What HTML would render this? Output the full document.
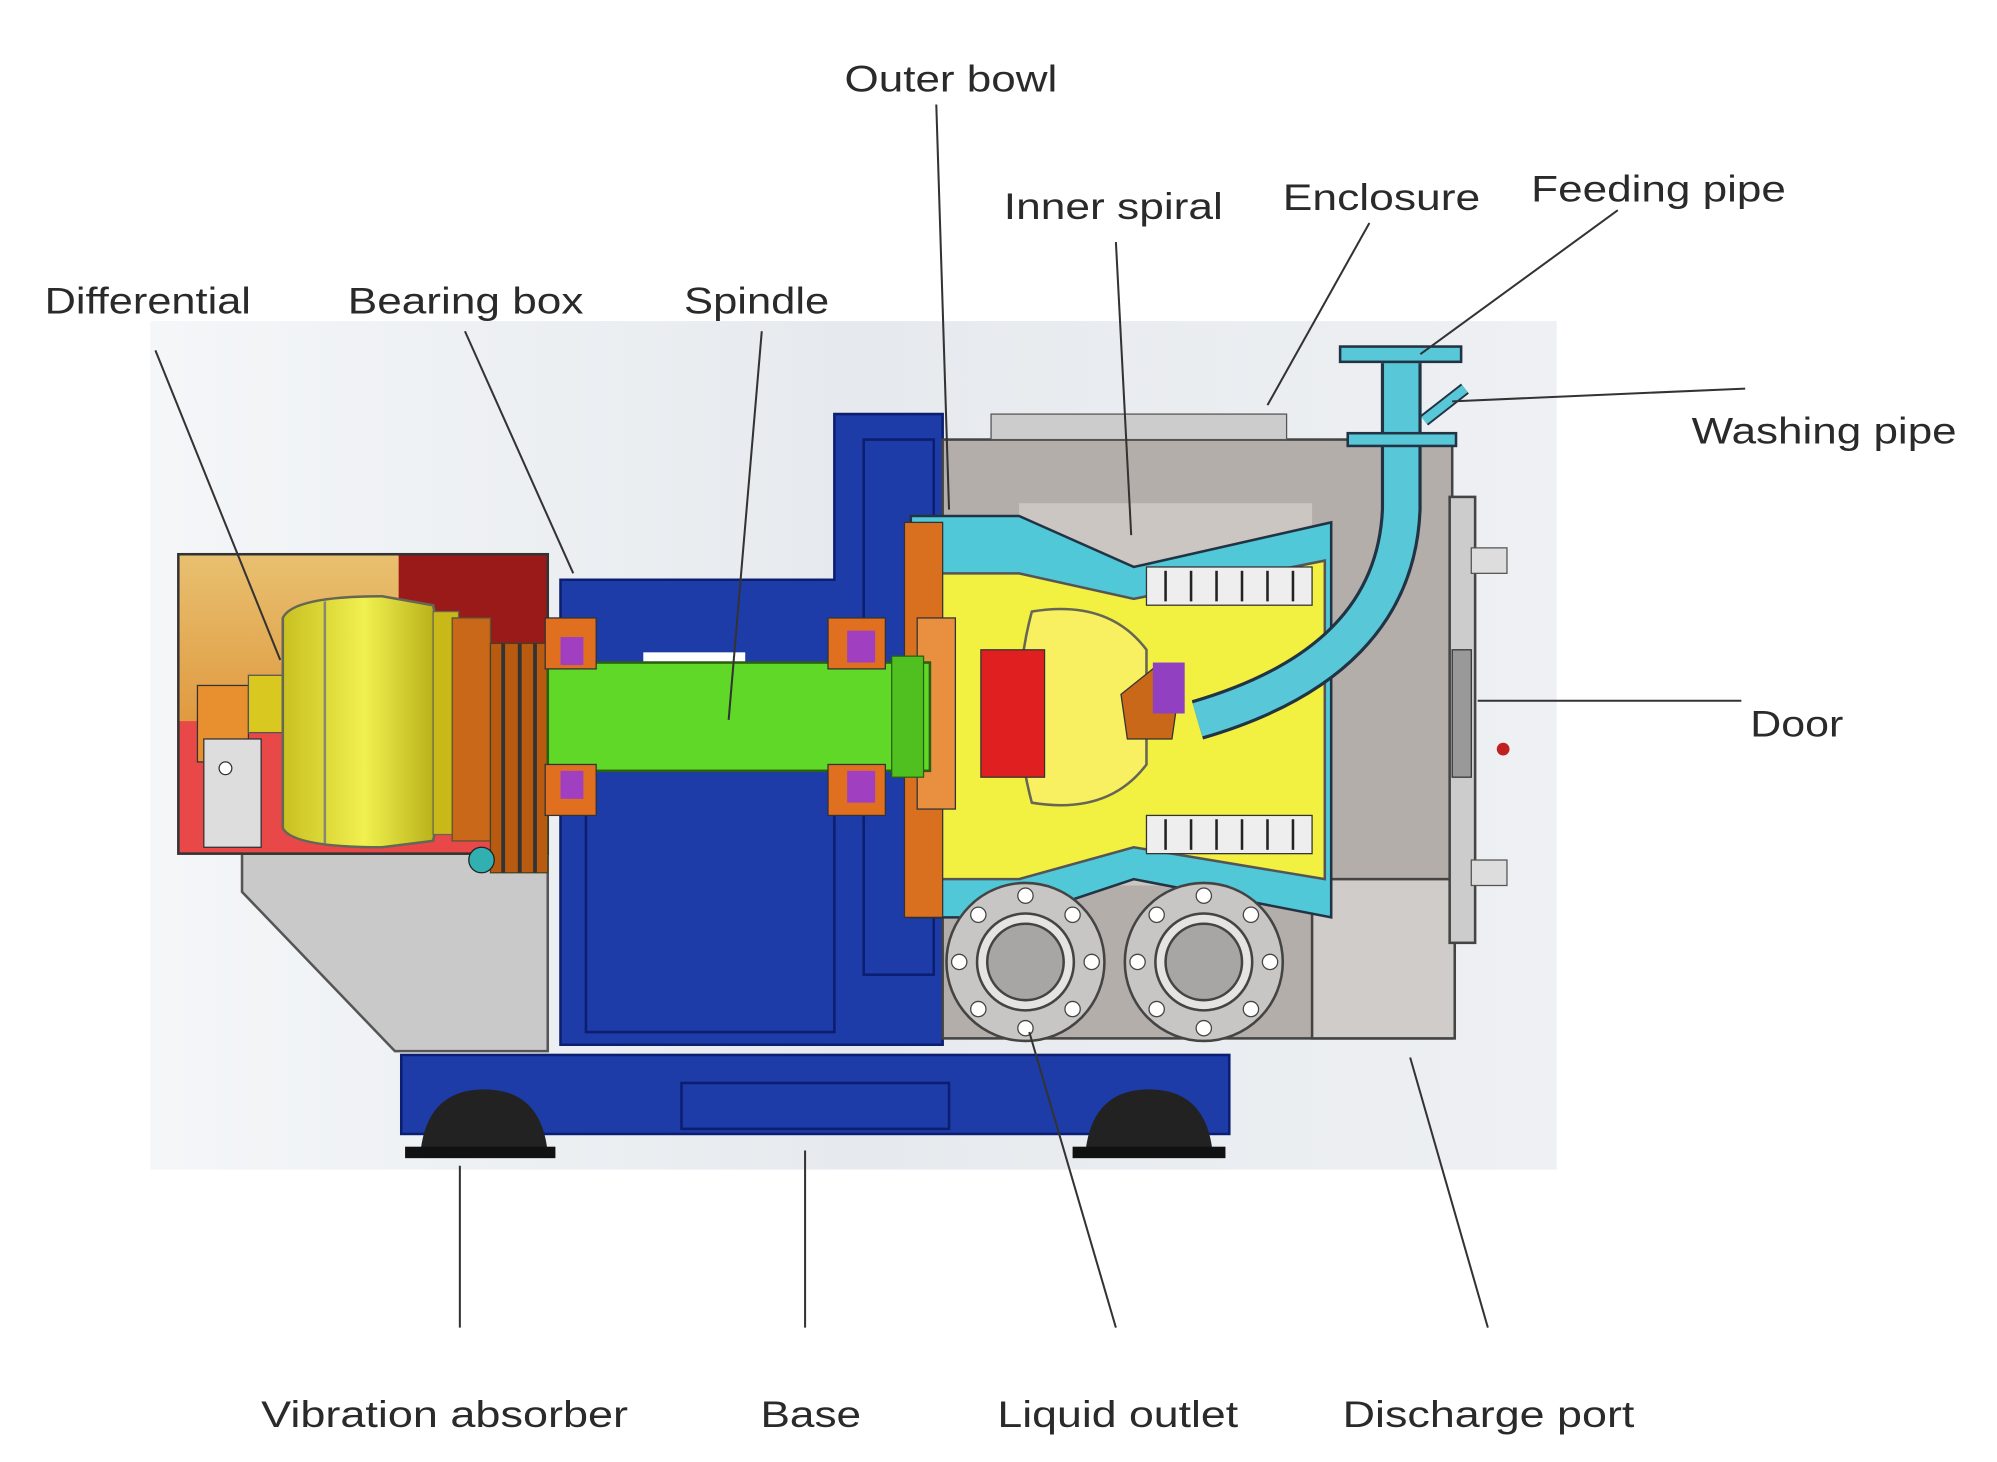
<!DOCTYPE html>
<html><head><meta charset="utf-8"><style>
html,body{margin:0;padding:0;background:#fff;}
svg{display:block;}
text{font-family:"Liberation Sans",sans-serif;font-size:29px;fill:#2a2a2a;}
</style></head><body>
<svg width="1997" height="1462" viewBox="0 0 1552 1136" preserveAspectRatio="none" xmlns="http://www.w3.org/2000/svg">
<defs>
<linearGradient id="bg" x1="0" y1="0" x2="1" y2="0"><stop offset="0" stop-color="#f4f6f8"/><stop offset="0.5" stop-color="#e6eaee"/><stop offset="1" stop-color="#eef0f3"/></linearGradient>
<linearGradient id="tan" x1="0" y1="0" x2="0" y2="1"><stop offset="0" stop-color="#e8c070"/><stop offset="1" stop-color="#e09a40"/></linearGradient>
<linearGradient id="yel" x1="0" y1="0" x2="1" y2="0"><stop offset="0" stop-color="#c8c020"/><stop offset="0.5" stop-color="#f0f050"/><stop offset="1" stop-color="#b0a810"/></linearGradient>
</defs>
<rect x="0" y="0" width="1552" height="1136" fill="#fff"/>
<g transform="scale(0.99)">
<rect x="118" y="252" width="1104" height="666" fill="url(#bg)"/>
<rect x="315" y="828" width="650" height="62" fill="#1e3ca8" stroke="#0c1e70" stroke-width="2"/>
<rect x="535" y="850" width="210" height="36" fill="none" stroke="#0c1e70" stroke-width="2"/>
<path d="M330 905 Q335 855 380 855 Q425 855 430 905 Z" fill="#222"/>
<rect x="318" y="900" width="118" height="9" fill="#111"/>
<path d="M852 905 Q857 855 902 855 Q947 855 952 905 Z" fill="#222"/>
<rect x="842" y="900" width="120" height="9" fill="#111"/>
<polygon points="190,670 430,670 430,825 310,825 190,700" fill="#c9c9c9" stroke="#555" stroke-width="2"/>
<rect x="140" y="435" width="290" height="235" fill="#e84848" stroke="#333" stroke-width="2"/>
<rect x="141" y="436" width="172" height="130" fill="url(#tan)"/>
<rect x="313" y="436" width="116" height="70" fill="#9a1a1a"/>
<rect x="155" y="538" width="40" height="60" fill="#e89030" stroke="#333"/>
<rect x="160" y="580" width="45" height="85" fill="#ddd" stroke="#333"/>
<circle cx="177" cy="603" r="5" fill="#fff" stroke="#333"/>
<rect x="195" y="530" width="35" height="45" fill="#d8c820" stroke="#555"/>
<path d="M222 485 Q230 468 300 468 L340 475 Q360 570 340 660 L300 665 Q230 665 222 650 Z" fill="url(#yel)" stroke="#665" stroke-width="2"/>
<line x1="255" y1="472" x2="255" y2="662" stroke="#887" stroke-width="2"/>
<rect x="340" y="480" width="20" height="175" fill="#c8b818" stroke="#665"/>
<rect x="355" y="485" width="30" height="175" fill="#c86818" stroke="#553" />
<rect x="385" y="505" width="45" height="180" fill="#b85a10" stroke="#442"/>
<line x1="395" y1="505" x2="395" y2="685" stroke="#333" stroke-width="3"/>
<line x1="408" y1="505" x2="408" y2="685" stroke="#333" stroke-width="3"/>
<line x1="420" y1="505" x2="420" y2="685" stroke="#333" stroke-width="3"/>
<circle cx="378" cy="675" r="10" fill="#30b0b0" stroke="#222"/>
<polygon points="440,455 655,455 655,325 740,325 740,820 440,820" fill="#1e3ca8" stroke="#0c1e70" stroke-width="2"/>
<rect x="460" y="600" width="195" height="210" fill="none" stroke="#0c1e70" stroke-width="2"/>
<rect x="678" y="345" width="55" height="420" fill="none" stroke="#0c1e70" stroke-width="2"/>
<rect x="505" y="512" width="80" height="14" fill="#fff"/>
<rect x="740" y="345" width="400" height="470" fill="#b4aeab" stroke="#444" stroke-width="2"/>
<rect x="778" y="325" width="232" height="20" fill="#ccc" stroke="#555"/>
<rect x="800" y="395" width="230" height="300" fill="#ccc6c2"/>
<rect x="1030" y="690" width="112" height="125" fill="#d0ccc9" stroke="#444" stroke-width="2"/>
<rect x="1138" y="390" width="20" height="350" fill="#ccc" stroke="#444" stroke-width="2"/>
<rect x="1155" y="430" width="28" height="20" fill="#ddd" stroke="#555"/>
<rect x="1155" y="675" width="28" height="20" fill="#ddd" stroke="#555"/>
<rect x="1140" y="510" width="15" height="100" fill="#999" stroke="#333"/>
<circle cx="1180" cy="588" r="5" fill="#c02020"/>
<polygon points="715,405 800,405 890,445 1045,410 1045,720 890,690 800,720 715,720" fill="#50c8d8" stroke="#234" stroke-width="2"/>
<polygon points="735,450 800,450 890,470 1040,440 1040,690 890,665 800,690 735,690" fill="#f2f040" stroke="#555" stroke-width="2"/>
<rect x="900" y="445" width="130" height="30" fill="#eee" stroke="#333"/>
<rect x="900" y="640" width="130" height="30" fill="#eee" stroke="#333"/>
<g stroke="#222" stroke-width="2">
<line x1="915" y1="448" x2="915" y2="472"/><line x1="935" y1="448" x2="935" y2="472"/><line x1="955" y1="448" x2="955" y2="472"/><line x1="975" y1="448" x2="975" y2="472"/><line x1="995" y1="448" x2="995" y2="472"/><line x1="1015" y1="448" x2="1015" y2="472"/>
<line x1="915" y1="643" x2="915" y2="667"/><line x1="935" y1="643" x2="935" y2="667"/><line x1="955" y1="643" x2="955" y2="667"/><line x1="975" y1="643" x2="975" y2="667"/><line x1="995" y1="643" x2="995" y2="667"/><line x1="1015" y1="643" x2="1015" y2="667"/>
</g>
<path d="M810 480 Q870 470 900 510 L900 600 Q870 640 810 630 Q790 555 810 480 Z" fill="#f8f060" stroke="#665" stroke-width="2"/>
<rect x="710" y="410" width="30" height="310" fill="#d87020" stroke="#333"/>
<rect x="720" y="485" width="30" height="150" fill="#e89040" stroke="#333"/>
<rect x="770" y="510" width="50" height="100" fill="#e02020" stroke="#333"/>
<polygon points="880,545 905,525 925,545 920,580 885,580" fill="#c86818" stroke="#333"/>
<rect x="905" y="520" width="25" height="40" fill="#9040c0"/>
<rect x="430" y="520" width="300" height="85" fill="#60d828" stroke="#2a6010" stroke-width="2"/>
<rect x="700" y="515" width="25" height="95" fill="#50c020" stroke="#2a6010"/>
<rect x="650" y="485" width="45" height="40" fill="#e07020" stroke="#333"/>
<rect x="650" y="600" width="45" height="40" fill="#e07020" stroke="#333"/>
<rect x="665" y="495" width="22" height="25" fill="#a040c0"/>
<rect x="665" y="605" width="22" height="25" fill="#a040c0"/>
<rect x="428" y="485" width="40" height="40" fill="#e07020" stroke="#333"/>
<rect x="428" y="600" width="40" height="40" fill="#e07020" stroke="#333"/>
<rect x="440" y="500" width="18" height="22" fill="#a040c0"/>
<rect x="440" y="605" width="18" height="22" fill="#a040c0"/>
<path d="M1100 285 L1100 400 Q1095 520 940 565" fill="none" stroke="#234" stroke-width="32"/>
<path d="M1100 285 L1100 400 Q1095 520 940 565" fill="none" stroke="#58c8d8" stroke-width="27"/>
<path d="M1118 330 L1150 305" fill="none" stroke="#234" stroke-width="10"/>
<path d="M1118 330 L1150 305" fill="none" stroke="#58c8d8" stroke-width="7"/>
<rect x="1052" y="272" width="95" height="12" fill="#58c8d8" stroke="#234" stroke-width="2"/>
<rect x="1058" y="340" width="85" height="10" fill="#58c8d8" stroke="#234" stroke-width="2"/>
<g stroke="#444" stroke-width="2">
<circle cx="805" cy="755" r="62" fill="#c8c6c4"/><circle cx="805" cy="755" r="38" fill="#e6e4e2"/><circle cx="805" cy="755" r="30" fill="#a8a6a4"/>
<circle cx="945" cy="755" r="62" fill="#c8c6c4"/><circle cx="945" cy="755" r="38" fill="#e6e4e2"/><circle cx="945" cy="755" r="30" fill="#a8a6a4"/>
</g>
<g fill="#fff" stroke="#444">
<circle cx="805" cy="703" r="6"/><circle cx="805" cy="807" r="6"/><circle cx="753" cy="755" r="6"/><circle cx="857" cy="755" r="6"/><circle cx="768" cy="718" r="6"/><circle cx="842" cy="718" r="6"/><circle cx="768" cy="792" r="6"/><circle cx="842" cy="792" r="6"/>
<circle cx="945" cy="703" r="6"/><circle cx="945" cy="807" r="6"/><circle cx="893" cy="755" r="6"/><circle cx="997" cy="755" r="6"/><circle cx="908" cy="718" r="6"/><circle cx="982" cy="718" r="6"/><circle cx="908" cy="792" r="6"/><circle cx="982" cy="792" r="6"/>
</g>
<g stroke="#333" stroke-width="1.6" fill="none">
<line x1="735" y1="82" x2="745" y2="400"/>
<line x1="876" y1="190" x2="888" y2="420"/>
<line x1="1075" y1="175" x2="995" y2="318"/>
<line x1="1270" y1="165" x2="1115" y2="278"/>
<line x1="122" y1="275" x2="220" y2="518"/>
<line x1="365" y1="260" x2="450" y2="450"/>
<line x1="598" y1="260" x2="572" y2="565"/>
<line x1="1370" y1="305" x2="1140" y2="315"/>
<line x1="1367" y1="550" x2="1160" y2="550"/>
<line x1="361" y1="915" x2="361" y2="1042"/>
<line x1="632" y1="903" x2="632" y2="1042"/>
<line x1="808" y1="810" x2="876" y2="1042"/>
<line x1="1107" y1="830" x2="1168" y2="1042"/>
</g>
<text x="663" y="72" textLength="167" lengthAdjust="spacingAndGlyphs">Outer bowl</text>
<text x="788" y="172" textLength="172" lengthAdjust="spacingAndGlyphs">Inner spiral</text>
<text x="1007" y="165" textLength="155" lengthAdjust="spacingAndGlyphs">Enclosure</text>
<text x="1202" y="158" textLength="200" lengthAdjust="spacingAndGlyphs">Feeding pipe</text>
<text x="35" y="246" textLength="162" lengthAdjust="spacingAndGlyphs">Differential</text>
<text x="273" y="246" textLength="185" lengthAdjust="spacingAndGlyphs">Bearing box</text>
<text x="537" y="246" textLength="114" lengthAdjust="spacingAndGlyphs">Spindle</text>
<text x="1328" y="348" textLength="208" lengthAdjust="spacingAndGlyphs">Washing pipe</text>
<text x="1374" y="578" textLength="73" lengthAdjust="spacingAndGlyphs">Door</text>
<text x="205" y="1120" textLength="288" lengthAdjust="spacingAndGlyphs">Vibration absorber</text>
<text x="597" y="1120" textLength="79" lengthAdjust="spacingAndGlyphs">Base</text>
<text x="783" y="1120" textLength="189" lengthAdjust="spacingAndGlyphs">Liquid outlet</text>
<text x="1054" y="1120" textLength="229" lengthAdjust="spacingAndGlyphs">Discharge port</text>
</g>
</svg>
</body></html>
